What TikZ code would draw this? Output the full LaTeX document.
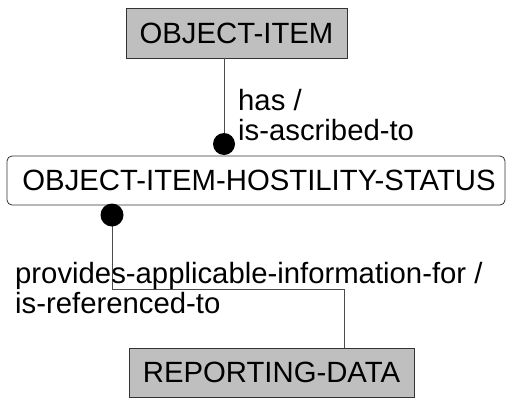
\documentclass[tikz,border=0pt]{standalone}
\usepackage{fontspec}
\setmainfont{Liberation Sans}
\usetikzlibrary{positioning}
\tikzset{
  entity/.style={draw=black!80, fill=black!25, line width=0.8pt, inner sep=0pt,
    font=\fontsize{29.3}{31}\selectfont},
  assoc/.style={draw=black!80, fill=white, line width=0.8pt, inner sep=0pt,
    rounded corners=5pt, font=\fontsize{29.3}{31}\selectfont},
  rellabel/.style={inner sep=0pt, align=left, font=\fontsize{29.3}{30}\selectfont},
  relline/.style={draw=black!70, line width=0.8pt},
}
\begin{document}
\begin{tikzpicture}[x=1pt,y=1pt,yscale=-1]
\useasboundingbox (0,0) rectangle (508,402);

% entities
\node[entity, minimum width=221pt, minimum height=50pt] (objitem) at (236.5,33) {OBJECT-ITEM};
\node[assoc, minimum width=498pt, minimum height=49pt] (ohstatus) at (256,180.5) {\hspace{6pt}OBJECT-ITEM-HOSTILITY-STATUS};
\node[entity, minimum width=285pt, minimum height=49pt] (repdata) at (271.5,372.5) {REPORTING-DATA};

% relationship: has
\coordinate (hasdot) at (224,144);
\draw[relline] (objitem.south -| hasdot) -- (hasdot);
\fill (hasdot) circle (11);
\node[rellabel, anchor=base west] (haslbl) at (238,140) {has /\\is-ascribed-to};

% relationship: provides
\coordinate (provdot) at (112,215);
\coordinate (provbend) at (344,289);
\draw[relline] (provdot) |- (provbend) -- (provbend |- repdata.north);
\fill (provdot) circle (11.5);
\node[rellabel, anchor=base west] (provlbl) at (15,313) {provides-applicable-information-for /\\is-referenced-to};

\end{tikzpicture}
\end{document}
